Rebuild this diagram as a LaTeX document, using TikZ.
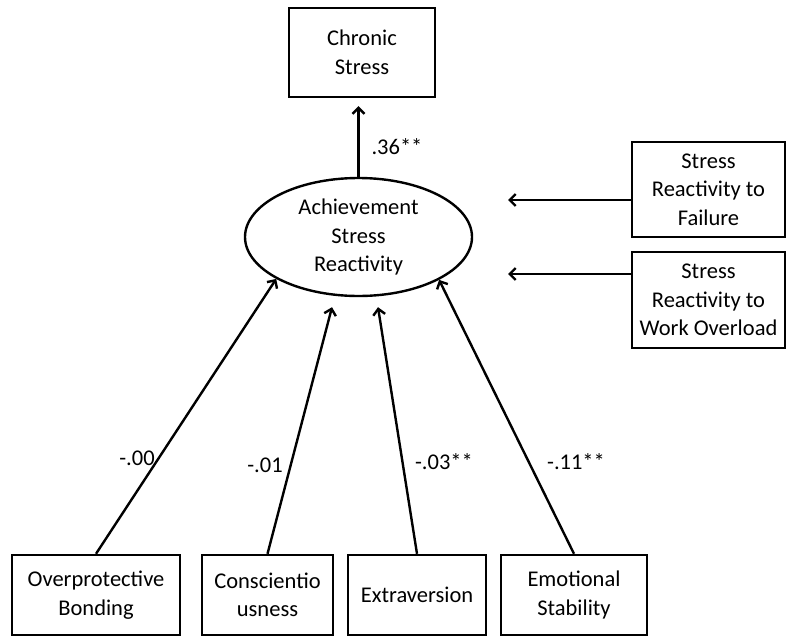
\documentclass[tikz,border=0pt]{standalone}
\usepackage{fontspec}
\setmainfont{Carlito}
\usetikzlibrary{shapes.geometric,arrows.meta}
\begin{document}
\begin{tikzpicture}[x=1pt,y=-1pt,
  every node/.style={font=\fontsize{22.5}{28.5}\selectfont},
  box/.style={draw,line width=2.4pt,align=center,inner sep=0pt},
  latent/.style={draw,ellipse,line width=2.4pt,align=center,inner sep=0pt,
    minimum width=227pt,minimum height=118pt},
  path/.style={line width=2.4pt,-{Straight Barb[length=6pt,width=12pt]}},
  coef/.style={inner sep=0pt}]
\useasboundingbox (0,0) rectangle (786,637);

% outcome and latent factor
\node[box,minimum width=146pt,minimum height=89pt] (cs) at (362,52.5) {Chronic\\Stress};
\node[latent] (asr) at (358.5,237) {Achievement\\Stress\\Reactivity};

% indicators on the right
\node[box,minimum width=153pt,minimum height=95pt] (srf) at (708.5,189.5) {Stress\\Reactivity to\\Failure};
\node[box,minimum width=153pt,minimum height=96pt] (srw) at (708.5,300) {Stress\\Reactivity to\\Work Overload};
\coordinate (t1) at (508,200);
\coordinate (t2) at (508,274);

% predictors
\node[box,minimum width=168pt,minimum height=80pt] (ob) at (96,595) {Overprotective\\Bonding};
\node[box,minimum width=131pt,minimum height=80pt] (cn) at (267.5,595) {Conscientio\\usness};
\node[box,minimum width=138pt,minimum height=80pt] (ex) at (417,595) {Extraversion};
\node[box,minimum width=146pt,minimum height=80pt] (es) at (574,595) {Emotional\\Stability};

% paths
\draw[path,shorten >=8pt] (asr.north) -- (asr.north |- cs.south);
\node[coef] (l36) at (397,147) {.36**};

\draw[path] ([yshift=-10.5pt]srf.west) -- (t1);
\draw[path] ([yshift=26pt]srw.west) -- (t2);

\draw[path] (ob.north) -- (asr.207.8);
\draw[path] (cn.north) -- ([xshift=-26.5pt,yshift=-10pt]asr.south);
\draw[path] (ex.north) -- ([xshift=19.5pt,yshift=-10pt]asr.south);
\draw[path] (es.north) -- (asr.-28.2);

\node[coef] (l00) at (137,458) {-.00};
\node[coef] (l01) at (265,465) {-.01};
\node[coef] (l03) at (444,462) {-.03**};
\node[coef] (l11) at (576,462) {-.11**};
\end{tikzpicture}
\end{document}
